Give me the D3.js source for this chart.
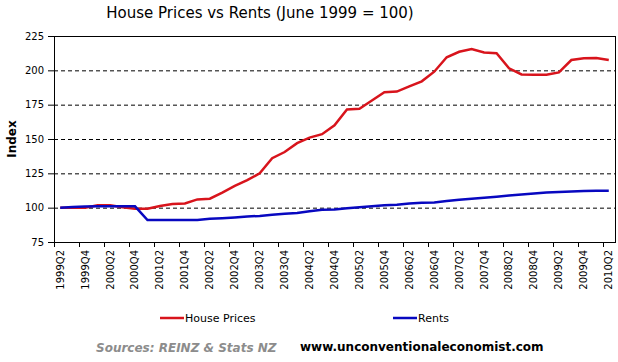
<!DOCTYPE html>
<html lang="en">
<head>
    <meta charset="UTF-8">
    <title>House Prices vs Rents (June 1999 = 100)</title>
    <script src="https://d3js.org/d3.v7.min.js"></script>
    <style>
        body, html {
            margin: 0;
            padding: 0;
            background: #fff;
            font-family: "DejaVu Sans", Verdana, sans-serif;
        }
        svg { display: block; }
    </style>
</head>
<body>
    <div id="chart"></div>
    <script>
        // quarterly index, June 1999 = 100
        const quarters = [
            "1999Q2", "1999Q3", "1999Q4", "2000Q1", "2000Q2", "2000Q3", "2000Q4", "2001Q1", "2001Q2",
            "2001Q3", "2001Q4", "2002Q1", "2002Q2", "2002Q3", "2002Q4", "2003Q1", "2003Q2", "2003Q3",
            "2003Q4", "2004Q1", "2004Q2", "2004Q3", "2004Q4", "2005Q1", "2005Q2", "2005Q3", "2005Q4",
            "2006Q1", "2006Q2", "2006Q3", "2006Q4", "2007Q1", "2007Q2", "2007Q3", "2007Q4", "2008Q1",
            "2008Q2", "2008Q3", "2008Q4", "2009Q1", "2009Q2", "2009Q3", "2009Q4", "2010Q1", "2010Q2"
        ];
        const housePrices = [
            100, 100, 100, 101.7, 101.7, 100.3, 99.2, 99.2, 101.2,
            102.6, 103, 106, 106.5, 111, 115.8, 120, 125, 136,
            140.5, 147, 151, 153.5, 160, 171.5, 172, 178, 184,
            184.5, 188.3, 192, 199, 209.5, 213.5, 215.5, 213, 212.5,
            201.5, 197, 196.7, 196.8, 198.5, 207.5, 208.8, 209, 207.5
        ];
        const rents = [
            100, 100.5, 100.8, 101, 101, 101, 101, 91, 91,
            91, 91, 91, 92, 92.3, 92.8, 93.5, 94, 94.8,
            95.5, 96.2, 97.4, 98.4, 98.7, 99.5, 100.3, 101, 101.7,
            102.2, 103, 103.5, 103.8, 104.8, 105.8, 106.5, 107.2, 108,
            108.8, 109.6, 110.4, 111, 111.4, 111.8, 112.2, 112.4, 112.4
        ];
        const yTicks = [75, 100, 125, 150, 175, 200, 225];
        const gridValues = [100, 125, 150, 175, 200];

        const W = 618, H = 362;
        const plot = { left: 54, top: 36, right: 615, bottom: 242 };

        const svg = d3.select("#chart").append("svg")
            .attr("width", W)
            .attr("height", H);

        const x = d3.scaleBand()
            .domain(quarters)
            .range([plot.left, plot.right])
            .padding(0);
        const y = d3.scaleLinear()
            .domain([75, 225])
            .range([plot.bottom, plot.top]);

        // title
        svg.append("text")
            .attr("x", 260)
            .attr("y", 18)
            .attr("text-anchor", "middle")
            .style("font-size", "15px")
            .text("House Prices vs Rents (June 1999 = 100)");

        // dashed gridlines
        svg.append("g").selectAll("line")
            .data(gridValues)
            .join("line")
            .attr("x1", plot.left)
            .attr("x2", plot.right)
            .attr("y1", d => y(d) + 0.5)
            .attr("y2", d => y(d) + 0.5)
            .attr("stroke", "#000")
            .attr("stroke-dasharray", "4,3");

        // y axis
        const yAxis = svg.append("g")
            .attr("transform", `translate(${plot.left},0)`)
            .call(d3.axisLeft(y).tickValues(yTicks).tickSize(6).tickPadding(4).tickSizeOuter(0));
        yAxis.select(".domain").remove();
        yAxis.selectAll("text").style("font-size", "10px").style("font-family", "DejaVu Sans, sans-serif");

        // x axis labels (every second quarter, at band centres)
        const labelQuarters = quarters.filter((q, i) => i % 2 === 0);
        const xAxis = svg.append("g")
            .attr("transform", `translate(0,${plot.bottom})`)
            .call(d3.axisBottom(x).tickValues(labelQuarters).tickSize(0).tickPadding(0));
        xAxis.select(".domain").remove();
        xAxis.selectAll("text")
            .style("font-size", "10px")
            .style("font-family", "DejaVu Sans, sans-serif")
            .style("text-anchor", "end")
            .attr("transform", "rotate(-90)")
            .attr("x", -8)
            .attr("y", 0)
            .attr("dy", "0.34em");

        // x tick marks on category boundaries
        svg.append("g").selectAll("line")
            .data(labelQuarters)
            .join("line")
            .attr("x1", d => Math.round(x(d)) + 0.5)
            .attr("x2", d => Math.round(x(d)) + 0.5)
            .attr("y1", plot.bottom)
            .attr("y2", plot.bottom + 5)
            .attr("stroke", "#000");

        // plot border
        svg.append("rect")
            .attr("x", plot.left + 0.5)
            .attr("y", plot.top + 0.5)
            .attr("width", plot.right - plot.left)
            .attr("height", plot.bottom - plot.top)
            .attr("fill", "none")
            .attr("stroke", "#000");

        // y axis title
        svg.append("text")
            .attr("transform", "translate(16,139) rotate(-90)")
            .attr("text-anchor", "middle")
            .style("font-size", "12px")
            .style("font-weight", "bold")
            .text("Index");

        // series
        const line = d3.line()
            .x((d, i) => x(quarters[i]) + x.bandwidth() / 2)
            .y(d => y(d));

        svg.append("path")
            .datum(housePrices)
            .attr("fill", "none")
            .attr("stroke", "#d8141c")
            .attr("stroke-width", 2.5)
            .attr("d", line);

        svg.append("path")
            .datum(rents)
            .attr("fill", "none")
            .attr("stroke", "#0808c0")
            .attr("stroke-width", 2.5)
            .attr("d", line);

        // legend
        const legend = [
            { name: "House Prices", color: "#d8141c", x: 160 },
            { name: "Rents", color: "#0808c0", x: 393 }
        ];
        const lg = svg.append("g").selectAll("g")
            .data(legend)
            .join("g")
            .attr("transform", d => `translate(${d.x},318)`);
        lg.append("line")
            .attr("x1", 0).attr("x2", 24)
            .attr("stroke", d => d.color)
            .attr("stroke-width", 2.5);
        lg.append("text")
            .attr("x", 25)
            .attr("y", 4)
            .style("font-size", "11px")
            .text(d => d.name);

        // footer
        svg.append("text")
            .attr("x", 96)
            .attr("y", 352)
            .style("font-size", "12px")
            .style("font-weight", "bold")
            .style("font-style", "italic")
            .attr("fill", "#8c8c8c")
            .text("Sources: REINZ & Stats NZ");
        svg.append("text")
            .attr("x", 300)
            .attr("y", 351)
            .style("font-size", "12px")
            .style("font-weight", "bold")
            .text("www.unconventionaleconomist.com");
    </script>
</body>
</html>
